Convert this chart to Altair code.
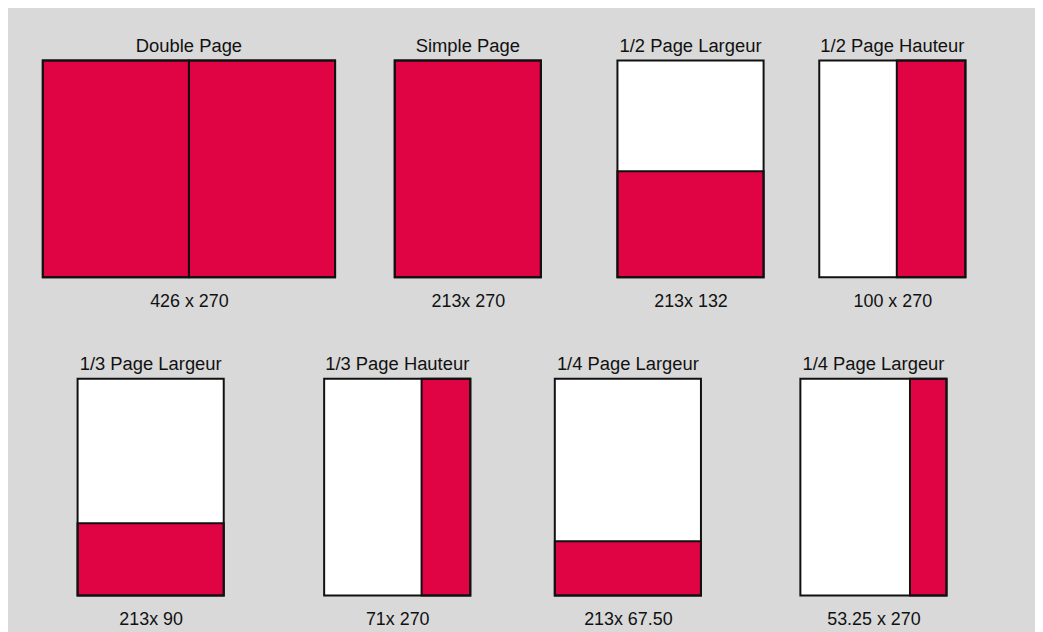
import altair as alt
import pandas as pd

# ---- data ----
formats = ["Double Page", "Simple Page", "1/2 Page Largeur", "1/2 Page Hauteur",
           "1/3 Page Largeur", "1/3 Page Hauteur", "1/4 Page Largeur", "1/4 Page Largeur"]
size_labels = ["426 x 270", "213x 270", "213x 132", "100 x 270",
               "213x 90", "71x 270", "213x 67.50", "53.25 x 270"]
page_counts = [2, 1, 1, 1, 1, 1, 1, 1]
ad_widths = [426, 213, 213, 100, 213, 71, 213, 53.25]
ad_heights = [270, 270, 132, 270, 90, 270, 67.5, 270]
PAGE_W = 213
PAGE_H = 270

# ---- style / layout ----
RED = "#E00444"
GRAY = "#D9D9D9"
INK = "#111111"
FONT = "Liberation Sans"
PX_PER_MM = 147 / 213
PANEL_H = 218
ROW1_GAPS = [0, 58, 75, 54]     # horizontal gaps before each panel (px)
ROW2_GAPS = [34, 99, 83, 98]


def spacer(w):
    return alt.Chart(pd.DataFrame({"v": [0]})).mark_point(
        opacity=0, size=0, strokeWidth=0
    ).encode(
        x=alt.value(w / 2), y=alt.value(PANEL_H / 2)
    ).properties(width=w, height=PANEL_H)


def panel(i):
    n = page_counts[i]
    total_w = PAGE_W * n
    pages = pd.DataFrame({
        "x0": [PAGE_W * k for k in range(n)],
        "x1": [PAGE_W * (k + 1) for k in range(n)],
        "y0": [0] * n,
        "y1": [PAGE_H] * n,
    })
    ad = pd.DataFrame({
        "x0": [total_w - ad_widths[i]],
        "x1": [total_w],
        "y0": [0],
        "y1": [ad_heights[i]],
    })
    xs = alt.Scale(domain=[0, total_w], nice=False, zero=False)
    ys = alt.Scale(domain=[0, PAGE_H], nice=False, zero=False)
    xax = alt.Axis(title=size_labels[i], labels=False, ticks=False, domain=False,
                   grid=False, titlePadding=15)
    enc = dict(
        x=alt.X("x0:Q", scale=xs, axis=xax),
        x2=alt.X2("x1"),
        y=alt.Y("y0:Q", scale=ys, axis=None),
        y2=alt.Y2("y1"),
    )
    page_fill = alt.Chart(pages).mark_rect(fill="white").encode(**enc)
    ad_rect = alt.Chart(ad).mark_rect(fill=RED, stroke=INK, strokeWidth=2).encode(**enc)
    page_line = alt.Chart(pages).mark_rect(fill=None, stroke=INK, strokeWidth=2,
                                           filled=False).encode(**enc)
    return alt.layer(page_fill, ad_rect, page_line).properties(
        width=round(total_w * PX_PER_MM),
        height=PANEL_H,
        title=alt.TitleParams(text=formats[i], anchor="middle", offset=4),
    )


def row(indices, gaps):
    items = []
    for i, g in zip(indices, gaps):
        if g > 0:
            items.append(spacer(g))
        items.append(panel(i))
    return alt.hconcat(*items, spacing=0)


row1 = row(range(4), ROW1_GAPS)
row2 = row(range(4, 8), ROW2_GAPS)

chart = alt.vconcat(row1, row2, spacing=45).properties(
    padding={"left": 34, "top": 27, "right": 69, "bottom": 6},
    background=GRAY,
).configure_view(stroke=None).configure_title(
    font=FONT, fontSize=18.5, fontWeight="normal", color=INK
).configure_axis(
    titleFont=FONT, titleFontSize=18, titleFontWeight="normal", titleColor=INK
)

chart.save("out.html", embed_options={"renderer": "svg", "actions": False})
